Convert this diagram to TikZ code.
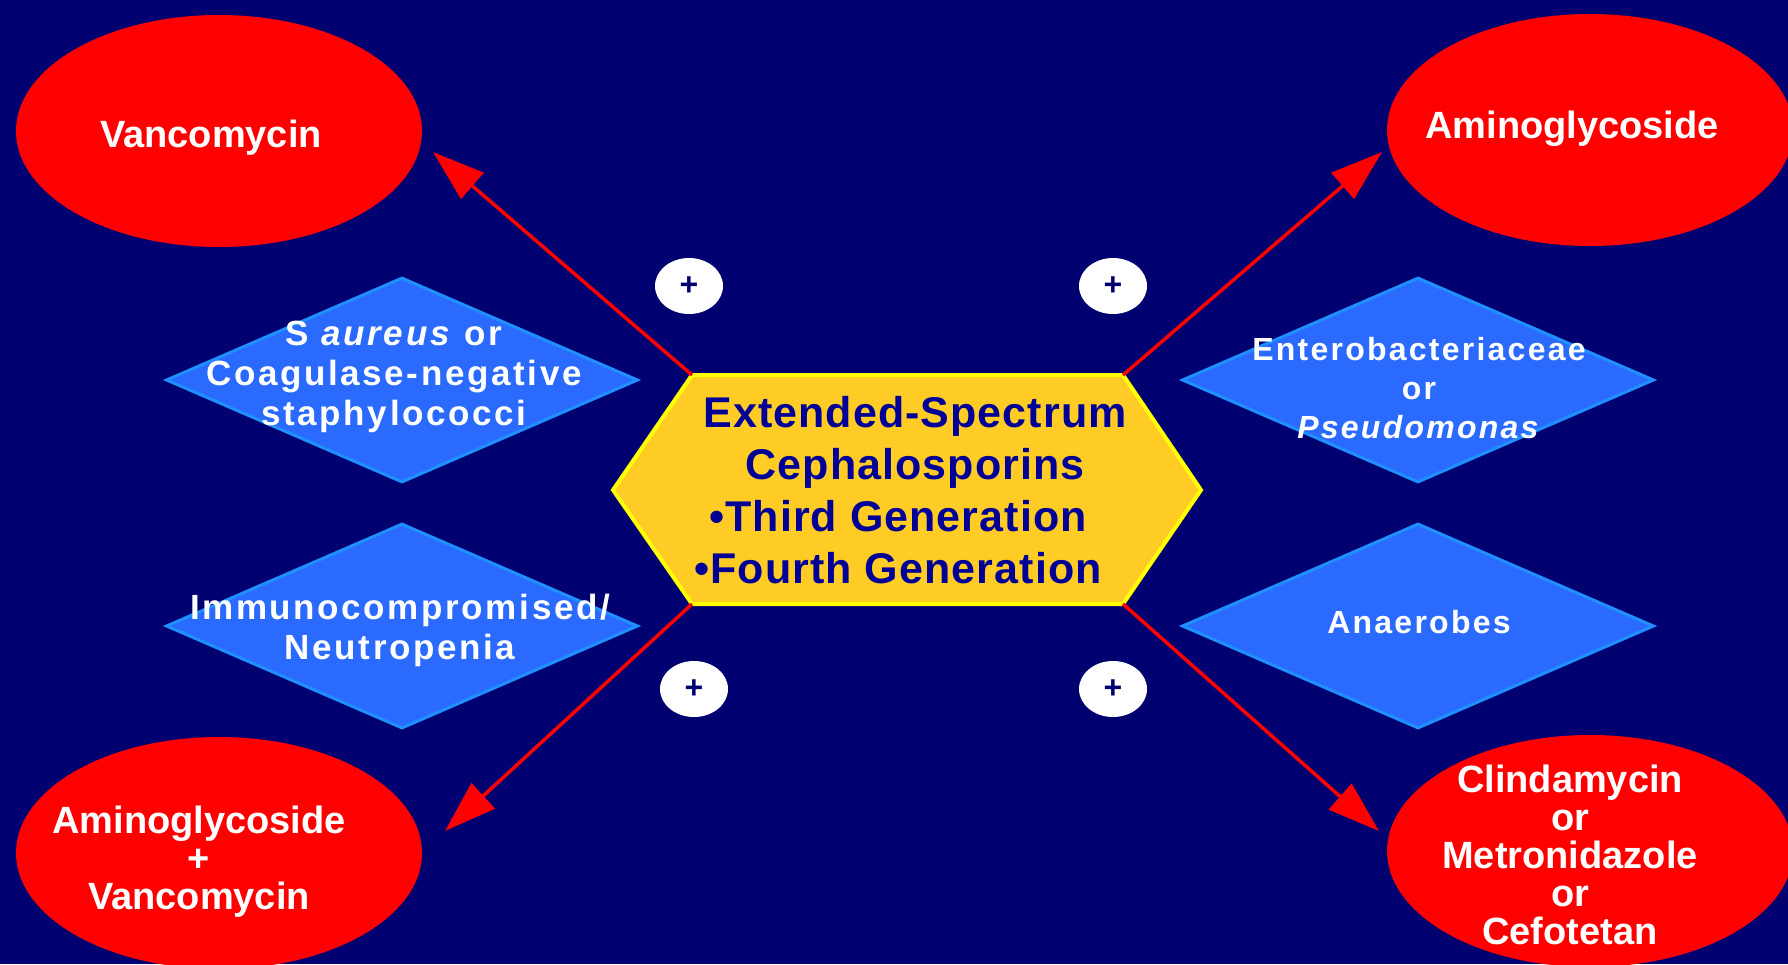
\documentclass[tikz,border=0pt]{standalone}
\usepackage{fontspec}
\setmainfont{Liberation Sans}
\usetikzlibrary{shapes.geometric,arrows.meta}
\definecolor{bgnavy}{RGB}{0,0,112}
\definecolor{ellred}{RGB}{255,0,0}
\definecolor{diafill}{RGB}{42,106,255}
\definecolor{diaedge}{RGB}{30,144,255}
\definecolor{hexfill}{RGB}{255,204,38}
\definecolor{hexedge}{RGB}{255,255,0}
\definecolor{hextext}{RGB}{0,0,150}
\tikzset{
  drug/.style={ellipse, fill=ellred, minimum width=406pt, minimum height=232pt, inner sep=0pt},
  drugtext/.style={text=white, align=center, font=\fontsize{38}{38}\selectfont\bfseries},
  cond/.style={diamond, fill=diafill, draw=diaedge, line width=3pt, minimum width=472pt, minimum height=205pt, inner sep=0pt},
  condbig/.style={text=white, align=center, font=\fontsize{35}{40}\selectfont\bfseries\addfontfeatures{LetterSpace=7.5}},
  condsmall/.style={text=white, align=center, font=\fontsize{32}{39}\selectfont\bfseries\addfontfeatures{LetterSpace=7}},
  plusbox/.style={ellipse, fill=white, minimum width=68pt, minimum height=56pt, inner sep=0pt, text=bgnavy, font=\fontsize{32}{32}\selectfont\bfseries},
  hexshape/.style={fill=hexfill, draw=hexedge, line width=4pt, line join=miter},
  hextextstyle/.style={text=hextext, align=center, font=\fontsize{43}{52}\selectfont\bfseries\addfontfeatures{LetterSpace=2.5}},
  link/.style={draw=red, line width=3.5pt, -{Triangle[length=52pt,width=34pt]}}
}
\begin{document}
\begin{tikzpicture}[x=1pt,y=-1pt]
\fill[bgnavy] (0,0) rectangle (1788,964);
\useasboundingbox (0,0) rectangle (1788,964);

% ellipses (drugs)
\node[drug] (vanc) at (219,131) {};
\node[drugtext] (vanct) at (211,138) {Vancomycin};
\node[drug] (amino) at (1590,130) {};
\node[drugtext] (aminot) at (1572,129) {Aminoglycoside};
\node[drug] (aminovanc) at (219,853) {};
\node[drugtext] (aminovanct) at (199,862) {Aminoglycoside\\+\\Vancomycin};
\node[drug] (clinda) at (1590,851) {};
\node[drugtext] (clindat) at (1570,855) {Clindamycin\\or\\Metronidazole\\or\\Cefotetan};

% diamonds (conditions)
\node[cond] (saur) at (402,380) {};
\node[condbig] (saurt) at (394,377) {S \textit{aureus} or\\Coagulase-negative\\staphylococci};
\node[cond] (immu) at (402,626) {};
\node[condbig] (immut) at (400,630) {Immunocompromised/\\Neutropenia};
\node[cond] (entero) at (1418,380) {};
\node[condsmall] (enterot) at (1419,388) {Enterobacteriaceae\\or\\\textit{Pseudomonas}};
\node[cond] (anaer) at (1418,626) {};
\node[condsmall] (anaert) at (1419,622) {Anaerobes};

% hexagon
\coordinate (hTL) at (692,375);
\coordinate (hTR) at (1123,375);
\coordinate (hR) at (1201,490);
\coordinate (hBR) at (1123,604);
\coordinate (hBL) at (692,604);
\coordinate (hL) at (613,490);
\filldraw[hexshape] (hTL) -- (hTR) -- (hR) -- (hBR) -- (hBL) -- (hL) -- cycle;
\node[hextextstyle] (hex) at (915,490) {Extended-Spectrum\\Cephalosporins\\•Third Generation\kern34pt\\•Fourth Generation\kern34pt};

% plus markers
\node[plusbox] (p1) at (689,286) {+};
\node[plusbox] (p2) at (1113,286) {+};
\node[plusbox] (p3) at (694,689) {+};
\node[plusbox] (p4) at (1113,689) {+};

% arrows
\coordinate (t1) at (433,152);
\coordinate (t2) at (1382,152);
\coordinate (t3) at (445,831);
\coordinate (t4) at (1379,831);
\draw[link] (hTL) -- (t1);
\draw[link] (hTR) -- (t2);
\draw[link] (hBL) -- (t3);
\draw[link] (hBR) -- (t4);
\end{tikzpicture}
\end{document}
